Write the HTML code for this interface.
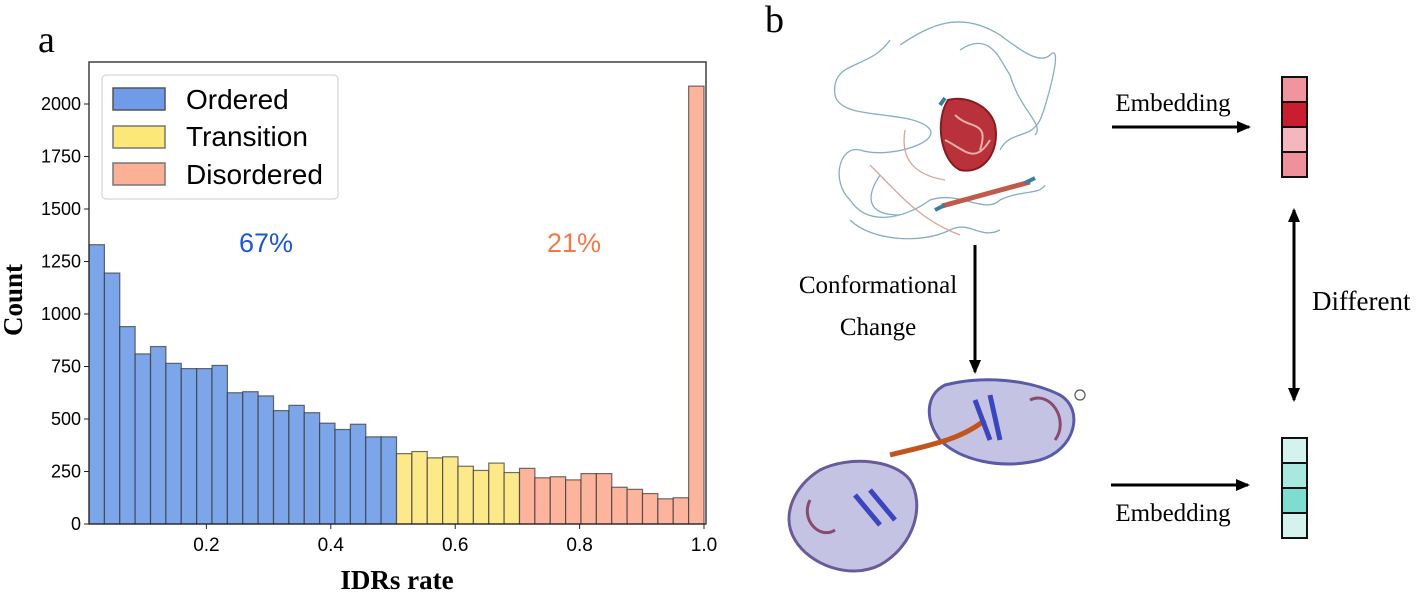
<!DOCTYPE html>
<html><head><meta charset="utf-8"><style>
body{margin:0;background:#fff;width:1419px;height:592px;overflow:hidden;position:relative;font-family:"Liberation Sans",sans-serif}
svg{position:absolute;left:0;top:0}
.serif{font-family:"Liberation Serif",serif}
</style></head><body>
<svg width="1419" height="592">
<defs>
<marker id="ah" markerWidth="14" markerHeight="12" refX="12" refY="6" orient="auto" markerUnits="userSpaceOnUse"><path d="M0,0 L14,6 L0,12 z" fill="#000"/></marker>
<marker id="ahs" markerWidth="14" markerHeight="12" refX="2" refY="6" orient="auto" markerUnits="userSpaceOnUse"><path d="M14,0 L0,6 L14,12 z" fill="#000"/></marker>
</defs>
<text x="38" y="52" font-size="38" class="serif">a</text>
<text x="765" y="32" font-size="38" class="serif">b</text>
<g id="bars"></g>
<g id="axes"></g>
<text x="239" y="252" font-size="27" fill="#1a56d6">67%</text>
<text x="547" y="252" font-size="27" fill="#f07a4a">21%</text>
<g>
<rect x="102" y="75" width="236" height="124" rx="4" fill="#fff" stroke="#ccc" stroke-width="1" fill-opacity="0.85"/>
<rect x="113" y="88" width="52" height="22" fill="#6f9be8" stroke="#555" stroke-width="1.5"/>
<text x="186" y="109" font-size="28">Ordered</text>
<rect x="113" y="126" width="52" height="22" fill="#fce879" stroke="#777" stroke-width="1.5"/>
<text x="186" y="146" font-size="28">Transition</text>
<rect x="113" y="163" width="52" height="22" fill="#fcb197" stroke="#777" stroke-width="1.5"/>
<text x="186" y="184" font-size="28">Disordered</text>
</g>
<text transform="translate(22,300) rotate(-90)" text-anchor="middle" font-size="27" font-weight="bold" class="serif">Count</text>
<text x="397" y="589" text-anchor="middle" font-size="27" font-weight="bold" class="serif">IDRs rate</text>

<!-- panel b -->
<g fill="none" stroke-width="1.3">
<path d="M890,40 C870,70 830,60 835,95 C840,120 900,110 925,125 C950,140 890,160 860,150 C840,145 830,180 850,200 C870,230 910,215 930,200 C960,190 985,215 1000,200 C1020,190 1040,195 1045,185 M900,45 C930,25 960,10 1000,35 C1020,50 1040,65 1050,55 C1065,40 1045,110 1040,120 C1030,140 1010,130 1000,150 M960,50 C990,30 1000,60 1010,75 C1020,110 1045,125 1035,135 M850,220 C870,240 920,245 950,230 C970,220 980,240 1000,230 M880,175 C870,190 860,215 900,215" stroke="#86aec0"/>
<path d="M905,130 C900,160 915,175 945,180 M870,165 C900,195 920,220 960,235" stroke="#d9a596"/>
<path d="M948,100 C935,120 940,160 960,170 C985,175 1000,150 995,125 C990,105 965,95 948,100 Z" fill="#b8313b" stroke="#8a1a22" stroke-width="2"/>
<path d="M955,115 C970,130 990,120 980,150 M945,140 C965,150 975,165 990,140" stroke="#e6b0a8" stroke-width="2"/>
<path d="M942,206 C965,200 1000,190 1030,182" stroke="#c05a4a" stroke-width="5"/>
<path d="M935,210 L945,205 M1025,183 L1035,178 M940,105 L945,98" stroke="#3a7ea0" stroke-width="4"/>
</g>
<line x1="975" y1="245" x2="975" y2="372" stroke="#000" stroke-width="3" marker-end="url(#ah)"/>
<text x="878" y="293" text-anchor="middle" font-size="25" class="serif">Conformational</text>
<text x="878" y="335" text-anchor="middle" font-size="25" class="serif">Change</text>
<g fill="none">
<path d="M945,385 C985,375 1030,380 1060,395 C1085,410 1075,450 1040,460 C1000,470 960,460 940,440 C925,420 925,395 945,385 Z" fill="#7c7ac0" fill-opacity="0.45" stroke="#5a5aa8" stroke-width="3"/>
<path d="M820,470 C850,455 895,460 910,480 C925,505 915,545 880,565 C850,580 810,565 795,540 C780,515 795,485 820,470 Z" fill="#7c7ac0" fill-opacity="0.45" stroke="#6a5a9a" stroke-width="3"/>
<path d="M890,455 C930,445 960,440 985,420" stroke="#c2551e" stroke-width="5"/>
<path d="M975,400 L990,440 M990,395 L1000,440 M855,495 L880,525 M870,490 L895,520" stroke="#3a45c0" stroke-width="5"/>
<path d="M1030,400 C1050,390 1070,420 1055,440 M810,500 C800,520 820,540 835,530" stroke="#8a4a70" stroke-width="3"/>
<circle cx="1080" cy="395" r="5" stroke="#555" stroke-width="1.2"/>
</g>
<line x1="1112" y1="127" x2="1249" y2="127" stroke="#000" stroke-width="3" marker-end="url(#ah)"/>
<text x="1173" y="111" text-anchor="middle" font-size="25" class="serif">Embedding</text>
<line x1="1111" y1="485" x2="1248" y2="485" stroke="#000" stroke-width="3" marker-end="url(#ah)"/>
<text x="1173" y="521" text-anchor="middle" font-size="25" class="serif">Embedding</text>
<line x1="1294" y1="210" x2="1294" y2="400" stroke="#000" stroke-width="3" marker-end="url(#ah)" marker-start="url(#ahs)"/>
<text x="1312" y="310" font-size="27" class="serif">Different</text>
<g id="emb"></g>
</svg>
<script>
const counts=[1330,1195,940,810,845,765,740,740,755,625,630,610,540,565,530,480,450,475,415,415,335,345,315,320,275,255,290,245,265,220,225,210,240,240,175,165,145,120,125,2085];
const classes=["o","o","o","o","o","o","o","o","o","o","o","o","o","o","o","o","o","o","o","o","t","t","t","t","t","t","t","t","d","d","d","d","d","d","d","d","d","d","d","d"];
const yTicks=[0,250,500,750,1000,1250,1500,1750,2000];
const xTicks=[0.2,0.4,0.6,0.8,1.0];
const binStart=0.0113, binEnd=1.0;
const redVec=["#f0949e","#c81e30","#f5b7be","#ef919b"];
const tealVec=["#d4f3ef","#a9e8df","#7fdcd1","#d4f3ef"];
const NS="http://www.w3.org/2000/svg";
const X0=89,X1=706,Y0=524;
const xs=v=>82+(v)*(704-82)/1.0;
const ys=v=>Y0-v*0.21;
const fills={o:"#7da5ea",t:"#fde98a",d:"#fcb59c"};
const bars=document.getElementById('bars');
const bw=(binEnd-binStart)/counts.length;
counts.forEach((c,i)=>{const r=document.createElementNS(NS,'rect');
const a=xs(binStart+i*bw),b=xs(binStart+(i+1)*bw);
r.setAttribute('x',a);r.setAttribute('width',b-a);r.setAttribute('y',ys(c));r.setAttribute('height',Y0-ys(c));
r.setAttribute('fill',fills[classes[i]]);r.setAttribute('stroke','#333');r.setAttribute('stroke-opacity','0.7');r.setAttribute('stroke-width','1.2');


bars.appendChild(r);});
const ax=document.getElementById('axes');
let h='<rect x="'+X0+'" y="62" width="'+(X1-X0)+'" height="'+(Y0-62)+'" fill="none" stroke="#222" stroke-width="1.3"/>';
yTicks.forEach(t=>{const y=ys(t);h+='<line x1="'+(X0-5)+'" x2="'+X0+'" y1="'+y+'" y2="'+y+'" stroke="#222"/><text x="'+(X0-8)+'" y="'+(y+6)+'" text-anchor="end" font-size="18">'+t+'</text>';});
xTicks.forEach(t=>{const x=xs(t);h+='<line x1="'+x+'" x2="'+x+'" y1="'+Y0+'" y2="'+(Y0+5)+'" stroke="#222"/><text x="'+x+'" y="'+(Y0+27)+'" text-anchor="middle" font-size="19">'+t.toFixed(1)+'</text>';});
ax.innerHTML=h;
const emb=document.getElementById('emb');
function vec(arr,top,name){arr.forEach((c,i)=>{const r=document.createElementNS(NS,'rect');
r.setAttribute('x',1282);r.setAttribute('y',top+i*25);r.setAttribute('width',25);r.setAttribute('height',25);
r.setAttribute('fill',c);r.setAttribute('stroke','#111');r.setAttribute('stroke-width','2');


emb.appendChild(r);});}
vec(redVec,77,'top-embedding');vec(tealVec,438,'bottom-embedding');
</script>
</body></html>
